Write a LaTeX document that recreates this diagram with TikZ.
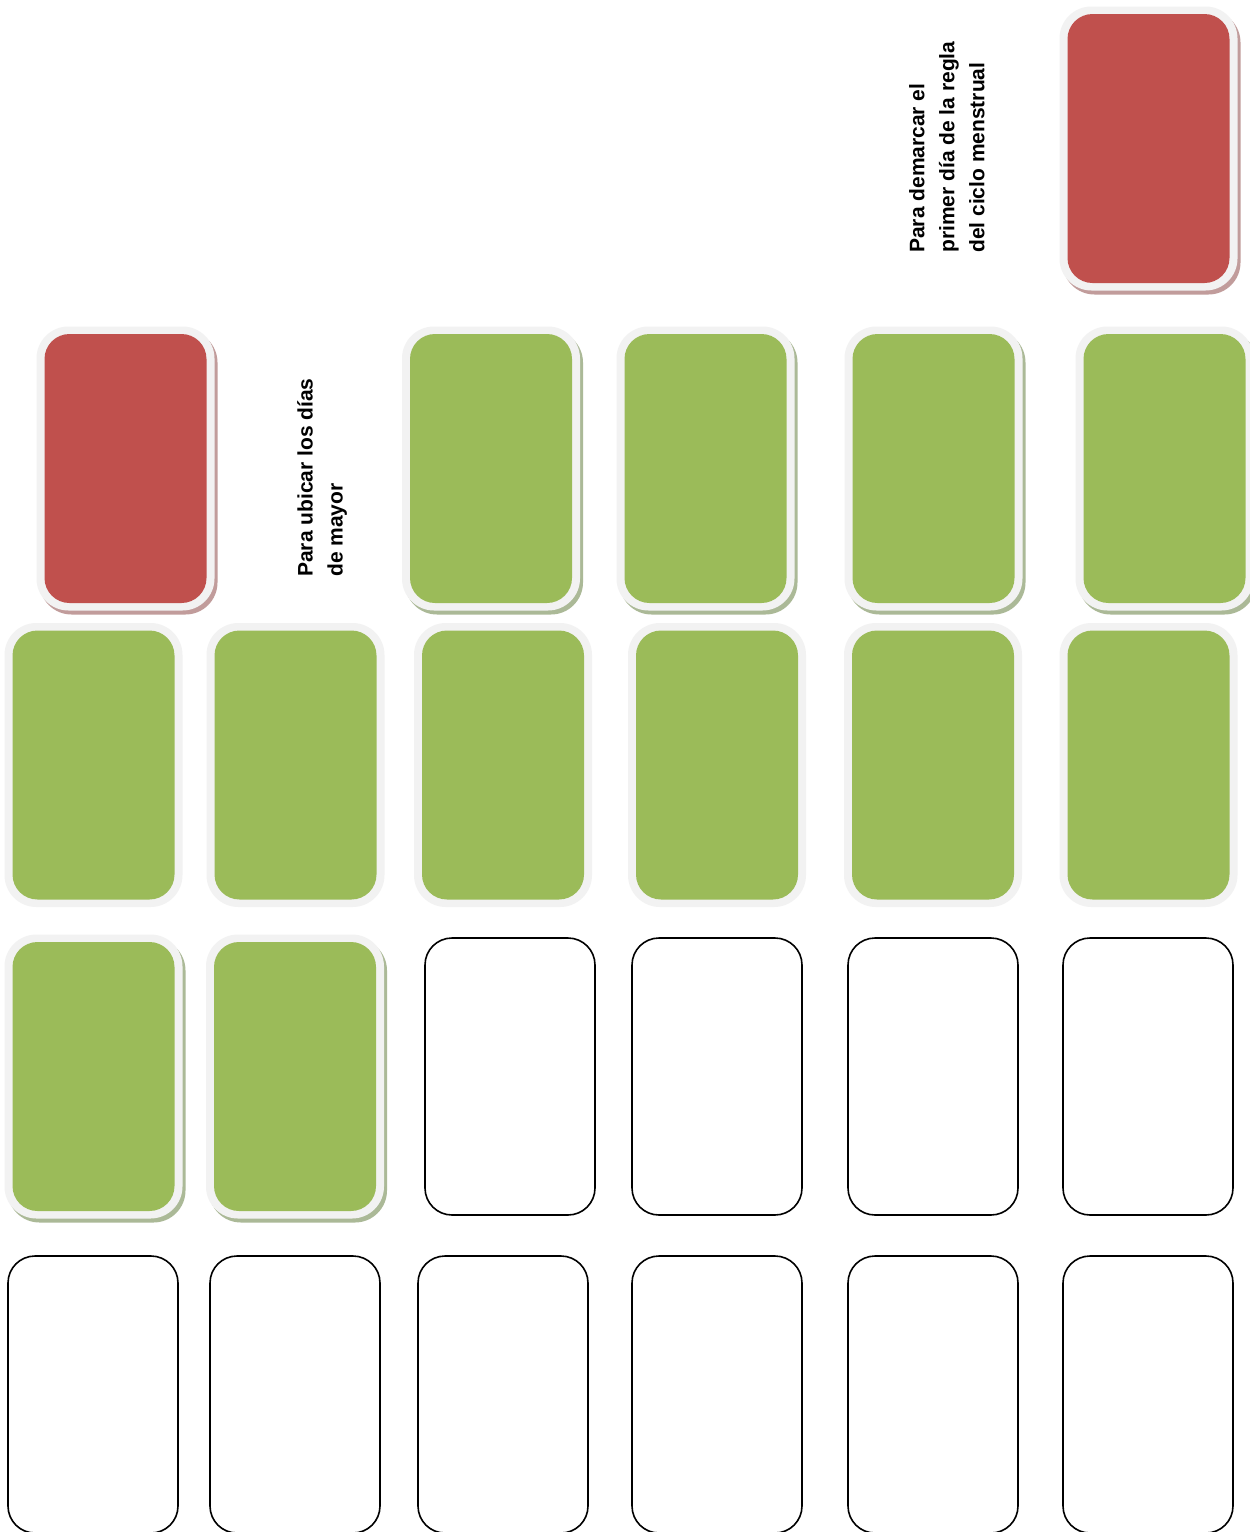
\documentclass[tikz,border=0pt]{standalone}
\usepackage{fontspec}
\setmainfont{Liberation Sans}
\definecolor{cred}{HTML}{C0504D}
\definecolor{cgreen}{HTML}{9BBB59}
\definecolor{cframe}{HTML}{F2F2F2}
\definecolor{credsh}{HTML}{C19C9B}
\definecolor{cgreensh}{HTML}{ABB997}
\tikzset{
  cardshadow/.style={rectangle, rounded corners=32pt, minimum width=178pt, minimum height=284pt, inner sep=0pt, draw=none},
  cardframe/.style={rectangle, rounded corners=32pt, fill=cframe, minimum width=178pt, minimum height=284pt, inner sep=0pt, draw=none},
  cardinner/.style={rectangle, rounded corners=25pt, minimum width=162pt, minimum height=269pt, inner sep=0pt, draw=none},
  whitecard/.style={rectangle, rounded corners=27pt, draw=black, line width=1.6pt, fill=white, minimum width=170pt, minimum height=277pt, inner sep=0pt},
  lbl/.style={font=\bfseries\fontsize{21}{30}\selectfont, align=left, inner sep=0pt, rotate=90, anchor=north west}
}
% #1 name, #2 x, #3 y, #4 fill, #5 shadow colour
\newcommand\shcard[5]{%
  \node[cardshadow, fill=#5] (#1s) at (#2+3,#3+4) {};
  \node[cardframe] (#1f) at (#2,#3) {};
  \node[cardinner, fill=#4] (#1) at (#2,#3) {};
}
% #1 name, #2 x, #3 y, #4 fill
\newcommand\flatcard[4]{%
  \node[cardframe] (#1f) at (#2,#3) {};
  \node[cardinner, fill=#4] (#1) at (#2,#3) {};
}
\begin{document}
\begin{tikzpicture}[x=1pt,y=-1pt]
\useasboundingbox[fill=white] (0,0) rectangle (1250,1532);
% row 0
\shcard{r0}{1148.5}{148.5}{cred}{credsh}
% row 1
\shcard{r1}{125.5}{468.5}{cred}{credsh}
\shcard{g12}{491}{468.5}{cgreen}{cgreensh}
\shcard{g13}{705.5}{468.5}{cgreen}{cgreensh}
\shcard{g14}{933.5}{468.5}{cgreen}{cgreensh}
\shcard{g15}{1164.5}{468.5}{cgreen}{cgreensh}
% row 2
\flatcard{g21}{93.5}{765}{cgreen}
\flatcard{g22}{295.5}{765}{cgreen}
\flatcard{g23}{503}{765}{cgreen}
\flatcard{g24}{717}{765}{cgreen}
\flatcard{g25}{933}{765}{cgreen}
\flatcard{g26}{1148.5}{765}{cgreen}
% row 3
\shcard{g31}{93.5}{1076.5}{cgreen}{cgreensh}
\shcard{g32}{295}{1076.5}{cgreen}{cgreensh}
\node[whitecard] (w33) at (510,1076.5) {};
\node[whitecard] (w34) at (717,1076.5) {};
\node[whitecard] (w35) at (933,1076.5) {};
\node[whitecard] (w36) at (1148,1076.5) {};
% row 4
\node[whitecard] (w41) at (93,1394.5) {};
\node[whitecard] (w42) at (295,1394.5) {};
\node[whitecard] (w43) at (503,1394.5) {};
\node[whitecard] (w44) at (717,1394.5) {};
\node[whitecard] (w45) at (933,1394.5) {};
\node[whitecard] (w46) at (1148,1394.5) {};
% texts
\node[lbl] (t1) at (909,253) {Para demarcar el\\primer día de la regla\\del ciclo menstrual};
\node[lbl] (t2) at (297,577) {Para ubicar los días\\de mayor};
\end{tikzpicture}
\end{document}
